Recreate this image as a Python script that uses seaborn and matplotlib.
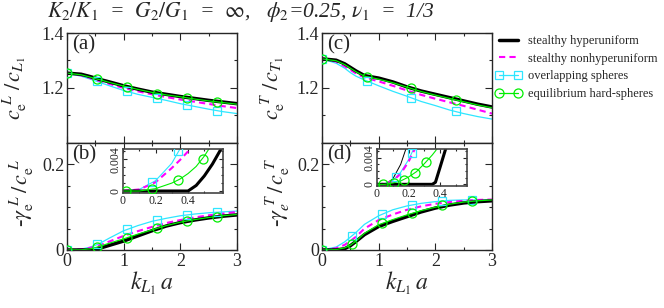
# Effective wave speed and attenuation vs k_L1 a for four microstructures
import matplotlib
matplotlib.use('Agg')
import matplotlib.pyplot as plt
from matplotlib.lines import Line2D
import seaborn as sns

sns.set_style('ticks')
plt.rcParams['font.family'] = ['Liberation Serif', 'DejaVu Serif']
plt.rcParams['mathtext.fontset'] = 'stix'

# ---- data ----
kx = [0, 0.25, 0.4, 0.5, 0.6, 0.75, 1.0, 1.25, 1.5, 1.75, 2.0, 2.25, 2.5, 2.75, 3.0]

# (a) longitudinal phase speed
black_a = [1.254, 1.250, 1.242, 1.236, 1.230, 1.222, 1.208, 1.196, 1.185, 1.177, 1.169, 1.162, 1.155, 1.149, 1.143]
magenta_a = [1.254, 1.246, 1.237, 1.230, 1.224, 1.215, 1.200, 1.188, 1.177, 1.167, 1.158, 1.150, 1.142, 1.134, 1.127]
cyan_a = [1.254, 1.243, 1.233, 1.226, 1.219, 1.208, 1.191, 1.177, 1.166, 1.155, 1.143, 1.133, 1.123, 1.114, 1.107]
green_a = [1.254, 1.248, 1.240, 1.234, 1.229, 1.220, 1.207, 1.195, 1.184, 1.175, 1.168, 1.160, 1.153, 1.147, 1.141]

# (c) transverse phase speed
black_c = [1.306, 1.301, 1.288, 1.275, 1.262, 1.245, 1.236, 1.222, 1.204, 1.189, 1.177, 1.165, 1.153, 1.141, 1.131]
magenta_c = [1.306, 1.296, 1.279, 1.266, 1.253, 1.238, 1.224, 1.208, 1.191, 1.175, 1.161, 1.148, 1.135, 1.121, 1.107]
cyan_c = [1.306, 1.290, 1.272, 1.256, 1.243, 1.229, 1.208, 1.188, 1.170, 1.151, 1.136, 1.120, 1.107, 1.096, 1.087]
green_c = [1.306, 1.299, 1.285, 1.272, 1.259, 1.243, 1.232, 1.219, 1.203, 1.187, 1.174, 1.162, 1.150, 1.138, 1.128]

# (b) longitudinal attenuation
black_b = [0, 0, 0, 0.002, 0.005, 0.011, 0.021, 0.033, 0.045, 0.056, 0.064, 0.070, 0.075, 0.079, 0.082]
magenta_b = [0, 0.0015, 0.0048, 0.008, 0.012, 0.020, 0.033, 0.044, 0.054, 0.063, 0.070, 0.076, 0.081, 0.085, 0.089]
cyan_b = [0, 0.002, 0.0065, 0.011, 0.017, 0.028, 0.045, 0.057, 0.067, 0.074, 0.080, 0.084, 0.087, 0.089, 0.091]
green_b = [0, 0.0005, 0.0025, 0.0055, 0.0095, 0.016, 0.026, 0.037, 0.047, 0.057, 0.065, 0.071, 0.076, 0.080, 0.083]

# (d) transverse attenuation
black_d = [0, 0, 0.003, 0.010, 0.020, 0.036, 0.055, 0.067, 0.078, 0.089, 0.098, 0.105, 0.110, 0.113, 0.115]
magenta_d = [0, 0.004, 0.012, 0.021, 0.031, 0.050, 0.070, 0.083, 0.094, 0.102, 0.108, 0.112, 0.115, 0.117, 0.118]
cyan_d = [0, 0.007, 0.019, 0.030, 0.041, 0.060, 0.080, 0.094, 0.103, 0.109, 0.113, 0.116, 0.117, 0.117, 0.117]
green_d = [0, 0.001, 0.005, 0.011, 0.021, 0.039, 0.059, 0.071, 0.082, 0.092, 0.100, 0.107, 0.112, 0.115, 0.117]

# symbols
mk_abd = [0, 0.53, 1.06, 1.59, 2.12, 2.65]
mk_c = [0, 0.79, 1.57, 2.36]
sq_a = [1.254, 1.224, 1.188, 1.162, 1.138, 1.117]
ci_a = [1.254, 1.233, 1.205, 1.180, 1.164, 1.149]
sq_c = [1.306, 1.226, 1.165, 1.115]
ci_c = [1.306, 1.240, 1.199, 1.157]
sq_b = [0, 0.013, 0.048, 0.070, 0.082, 0.088]
ci_b = [0, 0.007, 0.029, 0.052, 0.068, 0.078]
sq_d = [0, 0.033, 0.084, 0.105, 0.115, 0.117]
ci_d = [0, 0.014, 0.063, 0.086, 0.104, 0.114]

# inset of (b)
ixb = [0, 0.1, 0.2, 0.3, 0.35, 0.4, 0.45, 0.5, 0.55, 0.6]
black_bi = [0, 0, 0, 0, 0, 0, 0.0007, 0.0019, 0.0034, 0.0052]
magenta_bi = [0, 0.0002, 0.0011, 0.0029, 0.0039, 0.0050, 0.0063, 0.0078, 0.0095, 0.0113]
cyan_bi = [0, 0.0002, 0.0013, 0.0035, 0.0053, 0.0068, 0.0085, 0.0104, 0.0125, 0.0148]
green_bi = [0, 0, 0.0003, 0.0010, 0.0015, 0.0022, 0.0031, 0.0044, 0.0060, 0.0078]
sq_bi_x = [0.18, 0.34]
sq_bi = [0.0011, 0.0050]
ci_bi_x = [0.02, 0.18, 0.34, 0.49]
ci_bi = [0, 0.00025, 0.0014, 0.0041]

# inset of (d)
ixd = [0, 0.05, 0.1, 0.15, 0.2, 0.25, 0.3, 0.35, 0.37, 0.4, 0.45, 0.5]
thin_di = [0, 0, 0.0008, 0.0030, 0.0065, 0.0110, 0.0160, 0.0220, 0.0245, 0.0280, 0.0340, 0.0400]
magenta_di = [0, 0.0001, 0.0005, 0.0016, 0.0034, 0.0058, 0.0085, 0.0115, 0.0128, 0.0148, 0.0185, 0.0225]
cyan_di = [0, 0.0001, 0.0006, 0.0018, 0.0037, 0.0062, 0.0090, 0.0120, 0.0133, 0.0153, 0.0190, 0.0230]
green_di = [0, 0, 0.0002, 0.0005, 0.0011, 0.0019, 0.0031, 0.0044, 0.0050, 0.0060, 0.0080, 0.0100]
black_di = [0, 0, 0, 0, 0, 0, 0, 0, 0.0003, 0.0026, 0.0065, 0.0100]
sq_di_x = [0.12, 0.22]
sq_di = [0.0011, 0.0047]
ci_di_x = [0.04, 0.11, 0.17, 0.24, 0.31]
ci_di = [0, 0.0002, 0.0007, 0.0017, 0.0033]

CYAN = '#2ee6ff'
MAG = '#ff00ff'
GRN = '#00ee00'
DASH = (0, (3, 2))

W, H = 664, 308
fig = plt.figure(figsize=(W / 100, H / 100), dpi=100)


def box(x, y, w, h):
    return [x / W, 1 - (y + h) / H, w / W, h / H]


ax_a = fig.add_axes(box(67, 33, 170, 110))
ax_b = fig.add_axes(box(67, 143, 170, 107))
ax_c = fig.add_axes(box(322, 33, 170, 110))
ax_d = fig.add_axes(box(322, 143, 170, 107))


def curves(ax, x, blk, mag, cya, grn, lw_k=2.5, lw_t=0.9):
    sns.lineplot(x=x, y=cya, ax=ax, color=CYAN, lw=lw_t, estimator=None, sort=False)
    sns.lineplot(x=x, y=mag, ax=ax, color=MAG, lw=1.5, linestyle=DASH, estimator=None, sort=False)
    sns.lineplot(x=x, y=blk, ax=ax, color='k', lw=lw_k, estimator=None, sort=False)
    sns.lineplot(x=x, y=grn, ax=ax, color=GRN, lw=lw_t, estimator=None, sort=False)


def symbols(ax, sx, sy, cx, cy, ms=5.5):
    ax.plot(sx, sy, ls='none', marker='s', ms=ms, mfc='none', mec=CYAN, mew=0.9, zorder=4)
    ax.plot(cx, cy, ls='none', marker='o', ms=ms + 1, mfc='none', mec=GRN, mew=0.9, zorder=5)


def style(ax, size=13, major=5, minor=2.5):
    ax.tick_params(which='both', direction='in', top=True, right=True, labelsize=size, width=0.8, pad=2)
    ax.tick_params(which='major', length=major)
    ax.tick_params(which='minor', length=minor)
    for s in ax.spines.values():
        s.set_linewidth(1.0)
    ax.set_xlabel('')
    ax.set_ylabel('')


curves(ax_a, kx, black_a, magenta_a, cyan_a, green_a)
symbols(ax_a, mk_abd, sq_a, mk_abd, ci_a)
curves(ax_b, kx, black_b, magenta_b, cyan_b, green_b)
symbols(ax_b, mk_abd, sq_b, mk_abd, ci_b)
curves(ax_c, kx, black_c, magenta_c, cyan_c, green_c)
symbols(ax_c, mk_c, sq_c, mk_c, ci_c)
curves(ax_d, kx, black_d, magenta_d, cyan_d, green_d)
symbols(ax_d, mk_abd, sq_d, mk_abd, ci_d)

for ax in (ax_a, ax_c):
    style(ax)
    ax.set_xlim(0, 3)
    ax.set_ylim(1.0, 1.4)
    ax.set_xticks([0, 1, 2, 3])
    ax.set_xticks([0.5, 1.5, 2.5], minor=True)
    ax.tick_params(labelbottom=False)
    ax.set_yticks([1.2, 1.4], ['1.2', '1.4'])
    ax.set_yticks([1.1, 1.3], minor=True)

for ax in (ax_b, ax_d):
    style(ax)
    ax.set_xlim(0, 3)
    ax.set_ylim(0, 0.25)
    ax.set_xticks([0, 1, 2, 3], ['0', '1', '2', '3'])
    ax.set_xticks([0.5, 1.5, 2.5], minor=True)
    ax.set_yticks([0, 0.2], ['0', '0.2'])
    ax.set_yticks([0.05, 0.1, 0.15], minor=True)
    ax.set_xlabel(r'$k_{L_1}\,a$', fontsize=17)
    ax.xaxis.set_label_coords(0.5, -0.31)
    ax.xaxis.label.set_va('center')

ylab = 16
ax_a.set_ylabel(r'$c_{\rm e}^{\ L}\ /\,c_{L_1}$', fontsize=ylab)
ax_a.yaxis.set_label_coords(-0.31, 0.5)
ax_b.set_ylabel(r'-$\gamma_{\rm e}^{\ L}\,/\,c_{\rm e}^{\ L}$', fontsize=ylab)
ax_b.yaxis.set_label_coords(-0.265, 0.54)
ax_c.set_ylabel(r'$c_{\rm e}^{\ T}\ /\,c_{T_1}$', fontsize=ylab)
ax_c.yaxis.set_label_coords(-0.29, 0.5)
ax_d.set_ylabel(r'-$\gamma_{e}^{\ T}\,/\,c_{\rm e}^{\ T}$', fontsize=ylab)
ax_d.yaxis.set_label_coords(-0.26, 0.54)
for ax in (ax_a, ax_b, ax_c, ax_d):
    ax.yaxis.label.set_va('center')

for ax, tag in ((ax_a, '(a)'), (ax_b, '(b)'), (ax_c, '(c)'), (ax_d, '(d)')):
    ax.text(0.03, 0.98, tag, transform=ax.transAxes, fontsize=15, va='top', ha='left')

# insets
in_b = fig.add_axes(box(123, 149, 100, 44))
in_d = fig.add_axes(box(377, 149, 90, 37))
curves(in_b, ixb, black_bi, magenta_bi, cyan_bi, green_bi, lw_k=2.2, lw_t=0.8)
symbols(in_b, sq_bi_x, sq_bi, ci_bi_x, ci_bi, ms=5.5)
sns.lineplot(x=ixd, y=thin_di, ax=in_d, color='k', lw=0.7, estimator=None, sort=False)
curves(in_d, ixd, black_di, magenta_di, cyan_di, green_di, lw_k=2.2, lw_t=0.8)
symbols(in_d, sq_di_x, sq_di, ci_di_x, ci_di, ms=5.5)

in_b.set_xlim(0, 0.615)
in_d.set_xlim(0.02, 0.57)
for ax in (in_b, in_d):
    style(ax, size=8.5, major=3, minor=1.5)
    for s in ax.spines.values():
        s.set_color('#444444')
        s.set_linewidth(1.2)
    ax.set_ylim(-0.00025, 0.0053)
    ax.set_xticks([0, 0.2, 0.4], ['0', '0.2', '0.4'])
    ax.set_xticks([0.1, 0.3, 0.5], minor=True)
    ax.set_yticks([0, 0.004], ['0', '0.004'])
    ax.set_yticks([0.001, 0.002, 0.003, 0.005], minor=True)
    ax.tick_params(axis='y', labelrotation=90, pad=1)
    ax.tick_params(axis='x', pad=1.5)
    for t in ax.get_yticklabels():
        t.set_va('center')
    ax.set_facecolor('white')

# legend
handles = [
    Line2D([], [], color='k', lw=2.5),
    Line2D([], [], color=MAG, lw=1.5, linestyle=DASH),
    Line2D([], [], color=CYAN, lw=0.9, marker='s', ms=5.5, mfc='none', mec=CYAN, mew=0.9),
    Line2D([], [], color=GRN, lw=0.9, marker='o', ms=6.5, mfc='none', mec=GRN, mew=0.9),
]
labels = ['stealthy hyperuniform', 'stealthy nonhyperuniform',
          'overlapping spheres', 'equilibrium hard-spheres']
fig.legend(handles, labels, loc='upper left', bbox_to_anchor=(495 / W, 1 - 35 / H),
           frameon=False, fontsize=9, numpoints=2, handlelength=2.1,
           handletextpad=0.5, labelspacing=0.45, borderpad=0, borderaxespad=0)

title = (r'$K_{\mathit{2}}/K_{\mathit{1}}$  =  $G_{\mathit{2}}/G_{\mathit{1}}$  =  $\infty$,   '
         r'$\phi_{\mathit{2}}$=0.25, $\nu_{\mathit{1}}$  =  1/3')
fig.text(241 / W, 1 - 12 / H, title, fontsize=15.5, style='italic', ha='center', va='center')

fig.savefig('out.png', dpi=100)
